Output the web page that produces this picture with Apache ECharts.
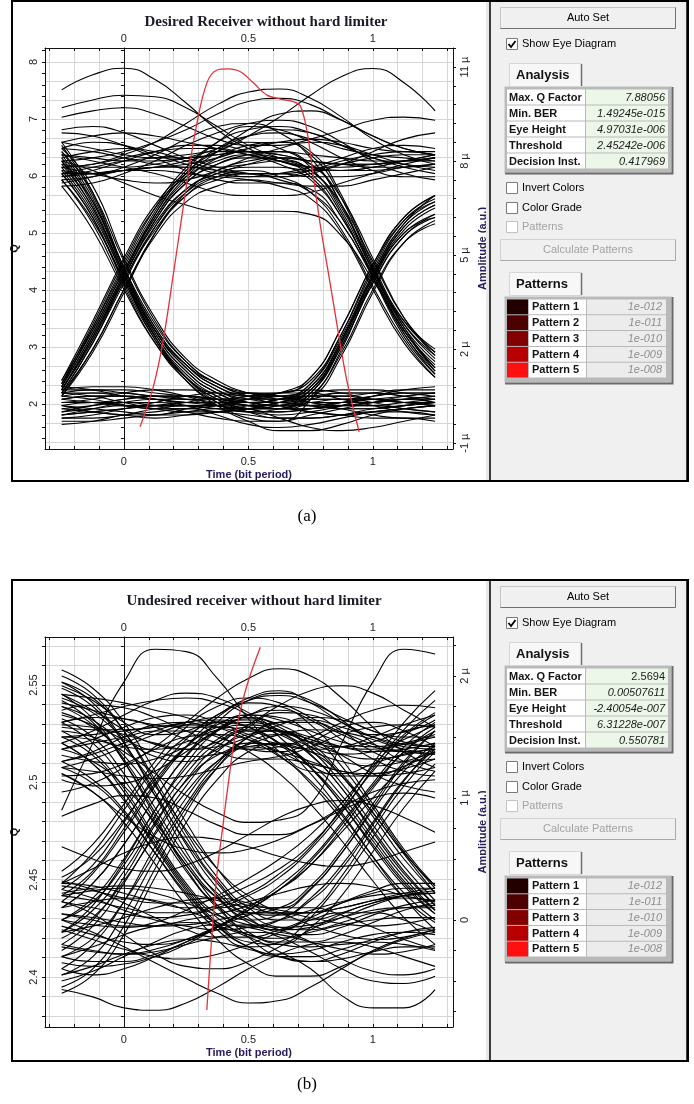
<!DOCTYPE html>
<html>
<head>
<meta charset="utf-8">
<script src="https://cdn.jsdelivr.net/npm/echarts@6/dist/echarts.min.js"></script>
<style>html,body{margin:0;padding:0;background:#fff;}#c{width:694px;height:1104px;}</style>
</head>
<body>
<div id="c"></div>
<script>
// ---------- data ----------
const timeSamples = [-0.25,-0.125,0,0.125,0.25,0.375,0.5,0.625,0.75,0.875,1,1.125,1.25];
const tickLabelsX = [0, 0.5, 1];
const tickLabelsQA = [2,3,4,5,6,7,8];
const tickLabelsAmpA = [-1,2,5,8,11];
const tickLabelsQB = [2.4,2.45,2.5,2.55];
const tickLabelsAmpB = [0,1,2];

// (a) eye traces, amplitude in µ (a.u.)
const eyeA_high = [
[7.6,7.8,8.0,8.1,8.2,8.3,8.3,8.2,8.0,7.9,7.9,8.0,8.0],
[8.4,8.6,8.5,8.2,7.9,7.6,7.5,7.6,7.8,8.1,8.4,8.5,8.4],
[7.2,7.3,7.6,8.0,8.5,8.9,9.2,9.3,9.1,8.6,8.0,7.6,7.4],
[9.0,9.1,8.9,8.5,8.1,7.8,7.6,7.5,7.6,7.9,8.3,8.7,8.9],
[7.8,7.6,7.4,7.3,7.4,7.7,8.1,8.4,8.6,8.5,8.2,7.9,7.7],
[10.27,10.75,10.96,10.6,9.85,9.0,8.4,8.0,7.8,7.8,7.9,8.0,8.1],
[7.7,7.6,7.7,7.8,8.0,8.3,8.8,9.4,10.1,10.7,10.95,10.5,9.6],
[9.7,9.95,10.1,10.05,9.7,9.1,8.5,8.1,7.8,7.7,7.7,7.8,7.9],
[8.0,8.1,8.3,8.6,9.0,9.5,9.9,10.0,9.8,9.3,8.8,8.4,8.2],
[7.4,7.5,7.7,7.8,7.8,7.7,7.6,7.6,7.7,7.9,8.1,8.2,8.2],
[8.2,8.0,7.8,7.6,7.3,7.0,6.9,6.9,7.0,7.3,7.6,7.9,8.1],
[9.4,9.6,9.7,9.5,9.1,8.7,8.5,8.5,8.7,9.0,9.3,9.4,9.3],
[7.8,7.9,8.2,8.6,9.2,9.8,10.2,10.3,10.0,9.4,8.7,8.2,7.9],
[8.6,8.4,8.2,8.1,8.1,8.2,8.4,8.6,8.7,8.6,8.4,8.3,8.3],
[7.5,7.7,8.0,8.3,8.5,8.5,8.3,8.0,7.8,7.7,7.8,8.0,8.2],
[8.1,8.3,8.4,8.3,8.0,7.7,7.5,7.5,7.7,8.0,8.2,8.3,8.2],
[7.9,7.8,7.8,7.9,8.1,8.4,8.8,9.0,8.9,8.5,8.1,7.8,7.6]
];
const eyeA_riseHigh = [
[0.7,2.4,4.3,6.1,7.3,7.9,8.2,8.3,8.2,8.1,8.0,8.0,8.1],
[0.9,2.6,4.5,6.3,7.6,8.4,8.8,8.9,8.7,8.4,8.2,8.1,8.0],
[0.6,2.2,4.1,5.9,7.1,7.6,7.8,7.8,7.7,7.7,7.8,8.0,8.2],
[0.8,2.5,4.4,6.2,7.5,8.3,9.0,9.5,9.6,9.3,8.8,8.4,8.2],
[0.7,2.3,4.2,5.8,6.9,7.4,7.6,7.6,7.5,7.5,7.6,7.8,7.9],
[1.0,2.7,4.6,6.4,7.7,8.6,9.1,9.0,8.6,8.1,7.7,7.5,7.5],
[1.0,2.9,4.9,6.6,7.6,8.1,8.3,8.2,8.0,7.9,7.9,8.0,8.1],
[0.5,1.9,3.8,5.7,7.0,7.7,8.0,8.1,8.0,7.9,7.8,7.8,7.9],
[0.8,2.7,4.7,6.5,7.8,8.6,9.0,9.1,8.9,8.5,8.1,7.9,7.8],
[0.6,2.0,3.9,5.6,6.7,7.2,7.4,7.3,7.2,7.2,7.4,7.6,7.8]
];
const eyeA_riseFall = [
[0.7,2.4,4.3,6.1,7.3,7.9,8.1,8.0,7.5,6.2,4.4,2.6,1.5],
[0.8,2.5,4.4,6.3,7.6,8.3,8.6,8.4,7.8,6.4,4.5,2.8,1.8],
[0.6,2.2,4.2,5.9,7.0,7.5,7.6,7.4,7.0,6.0,4.3,2.5,1.3],
[0.9,2.6,4.5,6.2,7.4,8.1,8.5,8.6,8.2,6.8,4.6,2.7,1.4],
[0.7,2.3,4.3,6.0,7.1,7.6,7.9,8.1,7.9,6.6,4.5,2.9,2.0],
[0.9,2.8,4.8,6.5,7.5,8.0,8.2,8.1,7.7,6.6,4.8,3.0,1.9],
[0.5,2.0,3.9,5.7,6.9,7.5,7.7,7.5,7.0,5.8,4.0,2.3,1.1]
];
const eyeA_highFall = [
[7.8,7.9,8.1,8.3,8.4,8.4,8.2,7.9,7.4,6.2,4.4,2.6,1.4],
[8.4,8.3,8.1,7.9,7.8,7.8,7.9,8.0,7.7,6.5,4.5,2.7,1.6],
[7.3,7.5,7.8,8.2,8.7,9.1,9.2,8.9,8.1,6.6,4.6,2.8,1.7],
[8.9,8.8,8.5,8.1,7.7,7.4,7.3,7.3,7.1,6.0,4.3,2.5,1.2],
[7.6,7.6,7.7,7.8,7.9,8.1,8.4,8.6,8.3,6.9,4.7,2.9,1.9],
[8.0,7.7,7.3,6.9,6.6,6.4,6.4,6.4,6.3,5.6,4.2,2.6,1.3],
[8.2,8.1,8.0,8.0,8.1,8.2,8.3,8.3,7.9,6.8,4.9,3.0,1.8],
[7.5,7.6,7.7,7.7,7.6,7.5,7.4,7.2,6.8,5.7,3.9,2.2,1.1],
[8.6,8.8,8.9,8.8,8.6,8.4,8.2,8.0,7.6,6.3,4.3,2.4,1.2]
];
const eyeA_fall = [
[8.1,6.6,4.4,2.5,1.3,0.6,0.3,0.2,0.2,0.3,0.3,0.4,0.4],
[7.7,6.3,4.3,2.4,1.1,0.4,0.0,-0.2,-0.2,-0.1,0.1,0.2,0.3],
[8.6,7.0,4.6,2.7,1.5,0.8,0.5,0.4,0.5,0.6,0.6,0.5,0.4],
[7.4,6.1,4.2,2.3,1.0,0.2,-0.3,-0.6,-0.6,-0.4,-0.1,0.1,0.2],
[8.3,6.8,4.5,2.6,1.4,0.7,0.4,0.3,0.2,0.1,0.1,0.2,0.3],
[7.9,6.5,4.4,2.6,1.5,0.9,0.6,0.5,0.4,0.4,0.5,0.6,0.6],
[7.2,5.8,3.9,2.2,1.1,0.5,0.2,0.1,0.1,0.2,0.3,0.4,0.5],
[8.4,7.2,4.9,3.0,1.7,1.0,0.6,0.4,0.3,0.3,0.4,0.5,0.6],
[8.0,6.7,4.6,2.8,1.6,0.9,0.5,0.2,0.0,-0.1,0.0,0.1,0.2],
[7.6,6.2,4.1,2.3,1.1,0.4,0.1,0.0,0.1,0.3,0.5,0.6,0.6]
];
const eyeA_fallRise = [
[8.0,6.5,4.4,2.5,1.3,0.6,0.3,0.4,0.8,2.3,4.3,5.8,6.5],
[7.6,6.2,4.2,2.4,1.2,0.5,0.1,0.1,0.6,2.1,4.1,5.6,6.3],
[8.5,6.9,4.6,2.7,1.5,0.8,0.5,0.5,0.9,2.4,4.4,6.0,6.7],
[7.8,6.4,4.3,2.4,1.1,0.3,-0.2,-0.3,0.4,2.0,4.2,5.7,6.2],
[8.2,6.7,4.5,2.6,1.4,0.7,0.4,0.4,0.7,2.2,4.3,5.9,6.6],
[8.3,7.0,4.8,2.9,1.6,0.9,0.6,0.6,1.1,2.7,4.7,6.2,6.9],
[7.4,6.0,4.0,2.2,1.0,0.3,0.0,0.1,0.5,1.9,3.9,5.4,6.0]
];
const eyeA_low = [
[0.3,0.3,0.4,0.5,0.5,0.4,0.3,0.2,0.2,0.3,0.4,0.4,0.3],
[0.6,0.7,0.7,0.6,0.5,0.4,0.4,0.5,0.6,0.7,0.7,0.6,0.5],
[-0.1,0.0,0.1,0.2,0.2,0.1,0.0,0.0,0.1,0.2,0.2,0.1,0.0],
[0.2,0.1,0.0,-0.1,-0.1,0.0,0.2,0.4,0.5,0.5,0.4,0.3,0.3],
[0.7,0.8,0.8,0.7,0.5,0.2,0.0,-0.1,0.0,0.2,0.5,0.7,0.8],
[-0.3,-0.3,-0.2,-0.1,0.0,0.1,0.1,0.1,0.0,-0.1,-0.2,-0.2,-0.3],
[0.4,0.5,0.5,0.4,0.3,0.3,0.4,0.6,0.7,0.6,0.4,0.3,0.2],
[0.1,0.2,0.3,0.3,0.2,-0.1,-0.4,-0.5,-0.4,-0.2,0.0,0.1,0.2],
[0.5,0.4,0.2,0.1,0.1,0.2,0.3,0.3,0.2,0.1,0.1,0.2,0.3],
[-0.2,-0.1,0.1,0.3,0.5,0.6,0.6,0.5,0.3,0.1,-0.1,-0.2,-0.2],
[0.0,0.2,0.4,0.5,0.4,0.2,0.1,0.2,0.4,0.6,0.6,0.5,0.3],
[0.6,0.5,0.3,0.1,0.0,0.0,0.1,0.3,0.4,0.4,0.3,0.1,0.0],
[-0.4,-0.3,-0.1,0.0,0.1,0.0,-0.1,-0.2,-0.2,-0.1,0.0,0.0,-0.1],
[0.3,0.4,0.6,0.7,0.7,0.6,0.5,0.5,0.5,0.5,0.6,0.7,0.7],
[0.1,0.0,-0.1,-0.1,0.1,0.3,0.5,0.6,0.6,0.4,0.2,0.0,-0.1],
[0.8,0.7,0.5,0.4,0.3,0.3,0.2,0.1,0.1,0.2,0.3,0.5,0.6],
[-0.2,-0.2,-0.1,0.1,0.2,0.2,0.1,-0.2,-0.5,-0.6,-0.5,-0.3,-0.1],
[0.4,0.3,0.2,0.2,0.3,0.5,0.6,0.5,0.3,0.2,0.2,0.3,0.4],
[0.2,0.3,0.3,0.2,0.0,-0.2,-0.3,-0.3,-0.1,0.1,0.3,0.4,0.5],
[-0.1,0.1,0.3,0.4,0.4,0.3,0.2,0.2,0.3,0.4,0.4,0.3,0.2]
];
const eyeA_lowRise = [
[0.4,0.5,0.5,0.4,0.3,0.3,0.3,0.4,0.8,2.3,4.3,5.9,6.6],
[0.0,0.1,0.2,0.2,0.2,0.1,0.1,0.2,0.6,2.1,4.1,5.6,6.2],
[0.7,0.7,0.6,0.5,0.4,0.4,0.5,0.6,1.0,2.5,4.5,6.1,6.8],
[0.2,0.0,-0.1,-0.2,-0.1,0.0,0.1,0.3,0.7,2.2,4.2,5.7,6.3],
[0.5,0.6,0.6,0.5,0.5,0.4,0.3,0.3,0.7,2.3,4.4,6.0,6.9],
[0.3,0.3,0.2,0.1,0.1,0.2,0.4,0.6,1.1,2.7,4.7,6.2,6.9],
[0.6,0.6,0.5,0.4,0.3,0.2,0.1,0.1,0.4,1.8,3.8,5.4,6.1],
[-0.1,0.0,0.1,0.2,0.3,0.3,0.3,0.4,0.9,2.5,4.6,6.1,6.7]
];
// (a) Q-factor curve
const qCurveA_t = [0.065,0.118,0.158,0.199,0.228,0.259,0.293,0.333,0.374,0.418,0.468,0.521,0.575,0.629,0.683,0.71,0.737,0.763,0.79,0.81,0.844,0.871,0.898,0.945];
const qCurveA_q = [1.6,2.3,3.12,4.29,5.15,6.05,6.92,7.63,7.86,7.88,7.83,7.63,7.42,7.35,7.3,7.22,6.75,5.93,5.11,4.59,3.71,3.0,2.36,1.51];

// (b) eye traces, amplitude in µ (a.u.)
const eyeB_high = [
[1.50,1.48,1.42,1.40,1.46,1.56,1.60,1.55,1.46,1.42,1.46,1.55,1.60],
[1.82,1.70,1.50,1.34,1.30,1.40,1.58,1.70,1.68,1.55,1.38,1.30,1.32],
[1.30,1.38,1.50,1.60,1.62,1.52,1.40,1.38,1.46,1.58,1.62,1.55,1.42],
[1.92,1.80,1.62,1.52,1.55,1.68,1.82,1.88,1.78,1.62,1.52,1.54,1.64],
[1.18,1.20,1.28,1.40,1.50,1.52,1.48,1.38,1.26,1.18,1.18,1.26,1.38],
[0.90,1.45,1.95,2.22,2.20,1.98,1.65,1.38,1.22,1.20,1.28,1.36,1.40],
[1.55,1.50,1.38,1.20,1.02,0.88,0.80,0.82,0.95,1.45,1.95,2.22,2.18],
[1.05,1.12,1.25,1.42,1.62,1.82,1.98,2.06,2.00,1.82,1.58,1.38,1.25],
[1.62,1.66,1.65,1.58,1.48,1.38,1.32,1.34,1.42,1.52,1.58,1.60,1.58],
[1.35,1.30,1.28,1.32,1.42,1.55,1.68,1.75,1.72,1.62,1.50,1.42,1.40],
[1.72,1.76,1.74,1.66,1.55,1.45,1.40,1.42,1.50,1.62,1.72,1.76,1.74],
[1.25,1.22,1.18,1.16,1.18,1.24,1.30,1.32,1.28,1.22,1.18,1.20,1.25],
[1.60,1.58,1.52,1.45,1.40,1.42,1.50,1.60,1.66,1.64,1.55,1.46,1.42],
[1.40,1.48,1.58,1.66,1.68,1.62,1.52,1.44,1.40,1.42,1.50,1.60,1.68],
[1.85,1.72,1.56,1.44,1.40,1.46,1.60,1.76,1.88,1.92,1.86,1.72,1.58],
[1.15,1.10,1.12,1.22,1.38,1.55,1.68,1.72,1.64,1.48,1.32,1.22,1.18],
[1.68,1.60,1.48,1.38,1.34,1.36,1.44,1.52,1.56,1.54,1.48,1.40,1.36],
[1.45,1.55,1.68,1.80,1.86,1.82,1.70,1.55,1.42,1.36,1.38,1.48,1.60]
];
const eyeB_mid = [
[1.20,1.05,0.85,0.68,0.58,0.55,0.58,0.66,0.78,0.92,1.05,1.12,1.15],
[0.30,0.42,0.55,0.64,0.68,0.66,0.60,0.52,0.46,0.44,0.48,0.56,0.64],
[0.85,0.95,1.02,1.00,0.90,0.78,0.70,0.70,0.78,0.90,1.00,1.04,1.00],
[0.60,0.50,0.42,0.40,0.45,0.56,0.70,0.84,0.94,0.98,0.94,0.84,0.72]
];
const eyeB_low = [
[0.05,0.02,-0.02,-0.05,-0.04,0.00,0.05,0.06,0.02,-0.03,-0.05,-0.03,0.02],
[0.30,0.28,0.22,0.15,0.10,0.10,0.15,0.22,0.28,0.30,0.27,0.20,0.15],
[-0.20,-0.25,-0.28,-0.26,-0.20,-0.14,-0.10,-0.12,-0.18,-0.24,-0.28,-0.26,-0.20],
[-0.40,-0.45,-0.40,-0.30,-0.18,-0.08,-0.04,-0.08,-0.18,-0.32,-0.42,-0.45,-0.40],
[0.15,0.05,-0.12,-0.28,-0.38,-0.40,-0.34,-0.22,-0.08,0.05,0.14,0.18,0.16],
[-0.57,-0.63,-0.72,-0.74,-0.68,-0.55,-0.40,-0.28,-0.20,-0.18,-0.22,-0.30,-0.38],
[-0.30,-0.22,-0.12,-0.05,-0.02,-0.05,-0.14,-0.26,-0.40,-0.62,-0.72,-0.72,-0.57],
[0.25,0.18,0.08,0.00,-0.05,-0.08,-0.06,0.00,0.08,0.15,0.20,0.22,0.22],
[-0.10,-0.05,0.02,0.10,0.16,0.18,0.14,0.06,-0.04,-0.12,-0.16,-0.14,-0.08],
[0.00,-0.10,-0.22,-0.35,-0.48,-0.60,-0.68,-0.66,-0.55,-0.40,-0.25,-0.15,-0.08],
[-0.45,-0.38,-0.28,-0.20,-0.16,-0.18,-0.24,-0.30,-0.34,-0.32,-0.26,-0.22,-0.22],
[0.20,0.24,0.26,0.22,0.14,0.04,-0.04,-0.08,-0.06,0.02,0.12,0.20,0.24],
[0.10,0.15,0.18,0.16,0.08,-0.02,-0.12,-0.18,-0.18,-0.12,-0.02,0.08,0.14],
[-0.30,-0.34,-0.34,-0.28,-0.18,-0.06,0.04,0.10,0.10,0.04,-0.06,-0.16,-0.24],
[0.32,0.25,0.14,0.02,-0.08,-0.14,-0.14,-0.08,0.02,0.14,0.24,0.30,0.30],
[-0.08,-0.16,-0.24,-0.30,-0.32,-0.28,-0.20,-0.10,0.00,0.06,0.06,0.00,-0.10],
[0.22,0.26,0.28,0.26,0.22,0.16,0.10,0.06,0.06,0.10,0.16,0.22,0.26],
[-0.50,-0.42,-0.30,-0.18,-0.08,-0.04,-0.06,-0.14,-0.26,-0.40,-0.50,-0.52,-0.46]
];
const eyeB_rise = [
[0.00,0.15,0.45,0.85,1.20,1.45,1.56,1.55,1.48,1.42,1.40,1.44,1.50],
[-0.25,-0.05,0.30,0.72,1.10,1.38,1.52,1.55,1.50,1.42,1.38,1.40,1.45],
[0.20,0.40,0.75,1.12,1.42,1.60,1.68,1.64,1.55,1.46,1.42,1.45,1.52],
[-0.45,-0.30,0.05,0.50,0.92,1.25,1.45,1.52,1.48,1.35,1.20,1.10,1.05],
[0.10,0.30,0.62,1.00,1.35,1.62,1.80,1.86,1.80,1.64,1.45,1.30,1.22],
[-0.10,0.08,0.40,0.80,1.14,1.35,1.42,1.38,1.30,1.22,1.20,1.24,1.32],
[0.30,0.55,0.90,1.25,1.50,1.62,1.64,1.56,1.45,1.36,1.32,1.35,1.42],
[-0.30,-0.15,0.15,0.55,0.95,1.28,1.50,1.62,1.64,1.58,1.50,1.44,1.42],
[0.15,0.38,0.72,1.10,1.42,1.66,1.80,1.84,1.78,1.66,1.55,1.50,1.50],
[-0.15,0.02,0.32,0.70,1.05,1.30,1.42,1.44,1.38,1.30,1.26,1.30,1.38],
[-0.55,-0.40,-0.05,0.42,0.88,1.25,1.50,1.62,1.62,1.54,1.44,1.38,1.36],
[0.40,0.62,0.95,1.30,1.58,1.75,1.82,1.78,1.66,1.52,1.42,1.38,1.40]
];
const eyeB_fall = [
[1.50,1.35,1.05,0.65,0.28,0.02,-0.12,-0.15,-0.10,-0.04,0.00,0.02,0.02],
[1.80,1.62,1.30,0.88,0.48,0.18,0.00,-0.06,-0.04,0.02,0.08,0.10,0.10],
[1.25,1.12,0.88,0.55,0.22,-0.05,-0.22,-0.28,-0.25,-0.18,-0.12,-0.10,-0.12],
[1.95,1.82,1.55,1.15,0.72,0.35,0.10,0.00,0.00,0.06,0.14,0.20,0.22],
[1.62,1.45,1.15,0.78,0.40,0.10,-0.10,-0.20,-0.22,-0.20,-0.18,-0.20,-0.25],
[1.40,1.30,1.10,0.80,0.45,0.12,-0.14,-0.30,-0.34,-0.28,-0.18,-0.10,-0.06],
[2.05,1.90,1.62,1.22,0.80,0.42,0.16,0.05,0.06,0.14,0.22,0.26,0.26],
[1.70,1.58,1.35,1.02,0.64,0.30,0.06,-0.06,-0.08,-0.02,0.06,0.10,0.12],
[1.45,1.28,0.98,0.60,0.24,-0.04,-0.22,-0.30,-0.30,-0.24,-0.16,-0.10,-0.08],
[1.90,1.75,1.45,1.05,0.62,0.26,0.02,-0.10,-0.12,-0.06,0.04,0.12,0.16],
[1.20,1.05,0.80,0.46,0.12,-0.16,-0.36,-0.46,-0.46,-0.38,-0.26,-0.16,-0.10],
[1.75,1.64,1.42,1.10,0.74,0.42,0.20,0.08,0.06,0.10,0.16,0.20,0.22]
];
const eyeB_riseFall = [
[0.00,0.18,0.50,0.90,1.25,1.48,1.58,1.52,1.35,1.08,0.72,0.38,0.12],
[-0.20,0.00,0.35,0.78,1.15,1.42,1.55,1.55,1.42,1.18,0.85,0.50,0.22],
[0.25,0.45,0.80,1.18,1.48,1.68,1.78,1.75,1.60,1.32,0.95,0.58,0.28],
[-0.40,-0.20,0.15,0.60,1.00,1.30,1.45,1.42,1.28,1.02,0.68,0.35,0.08],
[0.10,0.30,0.62,1.00,1.34,1.56,1.65,1.60,1.45,1.20,0.88,0.55,0.28],
[-0.10,0.12,0.48,0.90,1.28,1.55,1.68,1.66,1.52,1.26,0.92,0.56,0.26],
[0.35,0.52,0.82,1.15,1.42,1.58,1.62,1.54,1.36,1.08,0.74,0.40,0.12],
[-0.60,-0.45,-0.12,0.35,0.80,1.15,1.38,1.45,1.38,1.18,0.88,0.54,0.22]
];
const eyeB_fallRise = [
[1.55,1.38,1.08,0.68,0.30,0.05,-0.06,0.00,0.18,0.45,0.80,1.15,1.40],
[1.85,1.65,1.30,0.85,0.42,0.12,0.00,0.05,0.25,0.55,0.92,1.28,1.55],
[1.30,1.15,0.90,0.55,0.20,-0.08,-0.22,-0.18,0.02,0.32,0.68,1.02,1.28],
[1.65,1.50,1.20,0.82,0.45,0.18,0.06,0.10,0.28,0.58,0.95,1.30,1.55],
[2.00,1.85,1.55,1.12,0.68,0.32,0.12,0.10,0.26,0.55,0.90,1.22,1.45],
[1.45,1.28,1.00,0.62,0.26,-0.02,-0.18,-0.20,-0.06,0.20,0.56,0.92,1.22],
[1.75,1.60,1.32,0.92,0.52,0.22,0.06,0.04,0.16,0.42,0.78,1.14,1.44],
[1.95,1.78,1.46,1.02,0.56,0.20,-0.02,-0.08,0.06,0.36,0.74,1.10,1.38]
];
const eyeB_highFall = [
[1.50,1.52,1.55,1.58,1.60,1.58,1.50,1.35,1.12,0.82,0.48,0.18,-0.02],
[1.25,1.32,1.42,1.52,1.60,1.62,1.58,1.45,1.25,0.95,0.60,0.28,0.05],
[1.78,1.72,1.65,1.60,1.58,1.58,1.55,1.45,1.25,0.98,0.65,0.32,0.08],
[1.40,1.45,1.50,1.55,1.55,1.50,1.38,1.20,0.95,0.65,0.32,0.02,-0.20],
[1.62,1.68,1.75,1.80,1.82,1.78,1.68,1.50,1.25,0.95,0.62,0.30,0.05],
[1.85,1.82,1.78,1.72,1.66,1.58,1.48,1.34,1.14,0.86,0.52,0.22,0.00],
[1.30,1.36,1.45,1.55,1.62,1.64,1.58,1.44,1.20,0.88,0.52,0.18,-0.08],
[1.58,1.56,1.56,1.58,1.62,1.66,1.66,1.58,1.40,1.12,0.78,0.44,0.16]
];
const eyeB_lowRise = [
[0.05,0.00,-0.05,-0.05,0.00,0.05,0.12,0.25,0.45,0.75,1.08,1.38,1.58],
[-0.22,-0.26,-0.28,-0.24,-0.16,-0.05,0.08,0.25,0.48,0.78,1.10,1.38,1.55],
[0.28,0.24,0.18,0.14,0.14,0.18,0.28,0.42,0.62,0.90,1.22,1.50,1.68],
[-0.05,-0.12,-0.18,-0.20,-0.16,-0.06,0.08,0.25,0.45,0.72,1.00,1.25,1.40],
[0.15,0.10,0.05,0.02,0.04,0.10,0.20,0.35,0.58,0.88,1.24,1.56,1.80],
[-0.35,-0.38,-0.36,-0.30,-0.20,-0.06,0.10,0.28,0.50,0.80,1.12,1.42,1.62],
[0.20,0.16,0.10,0.06,0.06,0.12,0.22,0.38,0.60,0.92,1.28,1.62,1.88],
[0.00,-0.04,-0.06,-0.02,0.08,0.20,0.34,0.50,0.70,0.96,1.26,1.52,1.70]
];
// (b) Q-factor curve
const qCurveB_t = [0.333,0.353,0.374,0.398,0.407,0.421,0.441,0.468,0.501,0.548];
const qCurveB_q = [2.383,2.4207,2.4533,2.478,2.4875,2.501,2.520,2.537,2.5526,2.5694];

// side panels
const analysisLabels = ['Max. Q Factor','Min. BER','Eye Height','Threshold','Decision Inst.'];
const analysisA = ['7.88056','1.49245e-015','4.97031e-006','2.45242e-006','0.417969'];
const analysisB = ['2.5694','0.00507611','-2.40054e-007','6.31228e-007','0.550781'];
const patternNames = ['Pattern 1','Pattern 2','Pattern 3','Pattern 4','Pattern 5'];
const patternBER = ['1e-012','1e-011','1e-010','1e-009','1e-008'];
const patternColors = ['#220000','#4d0000','#820000','#b80000','#ff1010'];
const titles = ['Desired Receiver without hard limiter','Undesired receiver without hard limiter'];
const captions = ['(a)','(b)'];

// ---------- layout / styles ----------
const SANS = '"Liberation Sans", Arial, sans-serif';
const SERIF = '"Liberation Serif", "Times New Roman", serif';
const GRID_A = {left:45, top:48, width:408, height:401};
const GRID_B = {left:45, top:637, width:408, height:390};
const X_MIN = -0.317, X_MAX = 1.322;
const QA = [1.211, 8.246], AMPA = [-1.185, 11.606];
const QB = [2.3743, 2.5747], AMPB = [-0.877, 2.320];

function steps(start, step, n, dec){ const r=[]; for(let i=0;i<n;i++) r.push(+(start+step*i).toFixed(dec)); return r; }
const xTicks = steps(-0.3, 0.1, 17, 2);
const qTicksA = steps(1.4, 0.2, 35, 2);
const qGridA = steps(4/3, 1/3, 21, 4);
const ampTicksA = steps(-1, 0.6, 22, 2);
const qTicksB = steps(2.38, 0.01, 20, 3);
const ampTicksB = steps(-0.75, 0.25, 13, 2);

const labelStyle = {color:'#222', fontSize:11, fontFamily:SANS};
const nameStyle = {color:'#241c5c', fontSize:11, fontWeight:'bold', fontFamily:SANS};
const gridLine = {color:'#d6d6d6', width:1};

function xAx(gi, pos){
  return {type:'value', gridIndex:gi, position:pos, min:X_MIN, max:X_MAX,
    axisLine:{show:true, onZero:false, lineStyle:{color:'#111', width:1}},
    axisTick:{show:true, inside:true, length:3, customValues:xTicks, lineStyle:{color:'#111'}},
    axisLabel:Object.assign({show:true, customValues:tickLabelsX, margin: pos==='top'?4:7}, labelStyle),
    splitLine:{show:pos==='bottom', lineStyle:gridLine},
    name: pos==='bottom' ? 'Time (bit period)' : '', nameLocation:'middle', nameGap:20, nameTextStyle:nameStyle};
}
function qAx(gi, ext, labels, ticks, split){
  return {type:'value', gridIndex:gi, position:'left', min:ext[0], max:ext[1],
    axisLine:{show:true, onZero:false, lineStyle:{color:'#111'}},
    axisTick:{show:true, length:3, customValues:ticks, lineStyle:{color:'#111'}},
    axisLabel:Object.assign({customValues:labels, rotate:90, margin:6}, labelStyle),
    splitLine:{show:split, lineStyle:gridLine},
    name:'Q', nameLocation:'middle', nameGap:20, nameRotate:90, nameTextStyle:{color:'#111', fontSize:11, fontWeight:'bold', fontFamily:SANS}};
}
function ampAx(gi, ext, labels, ticks){
  return {type:'value', gridIndex:gi, position:'right', min:ext[0], max:ext[1],
    axisLine:{show:true, onZero:false, lineStyle:{color:'#111'}},
    axisTick:{show:true, length:3, customValues:ticks, lineStyle:{color:'#111'}},
    axisLabel:Object.assign({customValues:labels, rotate:90, margin:6, formatter:v => (v===0 ? '0' : v + ' µ')}, labelStyle),
    splitLine:{show:false},
    name:'Amplitude (a.u.)', nameLocation:'middle', nameGap:20, nameRotate:90, nameTextStyle:nameStyle};
}
function zeroAx(gi, ext, ticks, xIdx){
  return {type:'value', gridIndex:gi, position:'left', min:ext[0], max:ext[1],
    axisLine:{show:true, onZero:true, onZeroAxisIndex:xIdx, lineStyle:{color:'#111'}},
    axisTick:{show:true, length:3, customValues:ticks, lineStyle:{color:'#111'}},
    axisLabel:{show:false}, splitLine:{show:false}};
}
function gridAx(gi, ext, ticks){
  return {type:'value', gridIndex:gi, position:'right', min:ext[0], max:ext[1],
    axisLine:{show:false, onZero:false}, axisTick:{show:false, customValues:ticks},
    axisLabel:{show:false}, splitLine:{show:true, lineStyle:gridLine}};
}

const series = [];
function addEye(groups, xi, yi){
  groups.forEach(g => g.forEach(tr => series.push({
    type:'line', xAxisIndex:xi, yAxisIndex:yi, data: timeSamples.map((t,i)=>[t, tr[i]]),
    smooth:0.5, symbol:'none', silent:true, z:2, lineStyle:{color:'#000', width:1.1}
  })));
}
addEye([eyeA_high, eyeA_riseHigh, eyeA_riseFall, eyeA_highFall, eyeA_fall, eyeA_fallRise, eyeA_low, eyeA_lowRise], 0, 1);
addEye([eyeB_high, eyeB_mid, eyeB_low, eyeB_rise, eyeB_fall, eyeB_riseFall, eyeB_fallRise, eyeB_highFall, eyeB_lowRise], 2, 5);
series.push({type:'line', xAxisIndex:0, yAxisIndex:0, data: qCurveA_t.map((t,i)=>[t, qCurveA_q[i]]), smooth:0.35, symbol:'none', silent:true, z:4, lineStyle:{color:'#e53038', width:1.3}});
series.push({type:'line', xAxisIndex:2, yAxisIndex:4, data: qCurveB_t.map((t,i)=>[t, qCurveB_q[i]]), smooth:0.35, symbol:'none', silent:true, z:4, lineStyle:{color:'#e53038', width:1.3}});

// ---------- side panels & frames (graphic) ----------
const G = [];
function txt(x, y, s, font, fill, align){ G.push({type:'text', z:30, x:x, y:y, style:{text:s, font:font, fill:fill, align:align||'left', verticalAlign:'middle'}}); }
function rect(x, y, w, h, fill, stroke, lw, z){ G.push({type:'rect', z:z||10, shape:{x:x,y:y,width:w,height:h}, style:{fill:fill, stroke:stroke||null, lineWidth:lw||1}}); }
function pl(points, stroke, lw, z){ G.push({type:'polyline', z:z||12, shape:{points:points}, style:{stroke:stroke, fill:null, lineWidth:lw||1}}); }

function buildPanel(y0, h, vals, title, titleX, uprightFirst){
  rect(486, y0+1, 4, h-2, '#e8e8e8', null, 1, 5);
  rect(490, y0, 197, h, '#f0f0f0', '#000', 1.5, 6);
  rect(12, y0, 676, h, null, '#000', 2, 40);
  txt(titleX, y0+21, title, 'bold 15px '+SERIF, '#1b1b26', 'center');
  const btn = (yy, label, en) => {
    rect(500.5, y0+yy+0.5, 175, 21, '#f0f0f0', en?'#c4c4c4':'#d2d2d2', 1, 10);
    pl([[500.5,y0+yy+21.5],[675.5,y0+yy+21.5],[675.5,y0+yy+0.5]], en?'#707070':'#a8a8a8', 1);
    txt(588, y0+yy+11, label, '11px '+SANS, en?'#000':'#a3a3a3', 'center');
  };
  btn(6, 'Auto Set', true);
  btn(238, 'Calculate Patterns', false);
  const chk = (yy, label, checked, en) => {
    rect(506.5, y0+yy-5.5, 11, 11, '#fff', en?'#7a7a7a':'#c2c2c2', 1, 10);
    if (checked) pl([[508.5,y0+yy],[511,y0+yy+3],[515.5,y0+yy-3]], '#000', 1.8, 12);
    txt(522, y0+yy, label, '11px '+SANS, en?'#000':'#a3a3a3');
  };
  chk(43, 'Show Eye Diagram', true, true);
  chk(187, 'Invert Colors', false, true);
  chk(207, 'Color Grade', false, true);
  chk(226, 'Patterns', false, false);
  const tab = (yy, label) => {
    rect(509.5, y0+yy+0.5, 72, 23, '#f7f7f7', '#d6d6d6', 1, 10);
    pl([[581.5,y0+yy+1],[581.5,y0+yy+23]], '#6e6e6e', 1.5);
    txt(516, y0+yy+12, label, 'bold 13px '+SANS, '#111');
  };
  tab(62, 'Analysis');
  tab(271, 'Patterns');
  rect(504.5, y0+85.5, 167, 86, '#b9b9b9', '#d8d8d8', 1, 10);
  pl([[505,y0+172.5],[672.5,y0+172.5],[672.5,y0+86]], '#6a6a6a', 2);
  for (let i=0;i<5;i++){
    const ry = y0+88.5+i*16;
    rect(507, ry, 78, 15, '#fff', null, 1, 11);
    rect(586, ry, 82, 15, '#edf7e9', null, 1, 11);
    txt(509, ry+8, analysisLabels[i], 'bold 11px '+SANS, '#141414');
    txt(665, ry+8, vals[i], ((uprightFirst && i===0) ? '' : 'italic ')+'11px '+SANS, '#1a1a1a', 'right');
  }
  rect(504.5, y0+295.5, 167, 86, '#b9b9b9', '#d8d8d8', 1, 10);
  pl([[505,y0+382.5],[672.5,y0+382.5],[672.5,y0+296]], '#6a6a6a', 2);
  for (let i=0;i<5;i++){
    const ry = y0+298.5+i*15.8;
    rect(507, ry, 21, 14.8, patternColors[i], null, 1, 11);
    rect(529, ry, 57, 14.8, '#fff', null, 1, 11);
    rect(587, ry, 79, 14.8, '#ececec', null, 1, 11);
    txt(532, ry+7.6, patternNames[i], 'bold 11px '+SANS, '#141414');
    txt(662, ry+7.6, patternBER[i], 'italic 11px '+SANS, '#8e8e8e', 'right');
  }
}
buildPanel(1, 480, analysisA, titles[0], 266, false);
buildPanel(580, 481, analysisB, titles[1], 254, true);
txt(307, 517, captions[0], '17px '+SERIF, '#000', 'center');
txt(307, 1085, captions[1], '17px '+SERIF, '#000', 'center');

const option = {
  animation:false,
  backgroundColor:'#fff',
  grid:[Object.assign({}, GRID_A), Object.assign({}, GRID_B)],
  xAxis:[xAx(0,'bottom'), xAx(0,'top'), xAx(1,'bottom'), xAx(1,'top')],
  yAxis:[
    qAx(0, QA, tickLabelsQA, qTicksA, false),
    ampAx(0, AMPA, tickLabelsAmpA, ampTicksA),
    zeroAx(0, QA, qTicksA, 0),
    gridAx(0, QA, qGridA),
    qAx(1, QB, tickLabelsQB, qTicksB, true),
    ampAx(1, AMPB, tickLabelsAmpB, ampTicksB),
    zeroAx(1, QB, qTicksB, 2)
  ],
  series: series,
  graphic:{elements:G}
};
const chart = echarts.init(document.getElementById('c'), null, {renderer:'canvas'});
chart.setOption(option);
</script>
</body>
</html>
